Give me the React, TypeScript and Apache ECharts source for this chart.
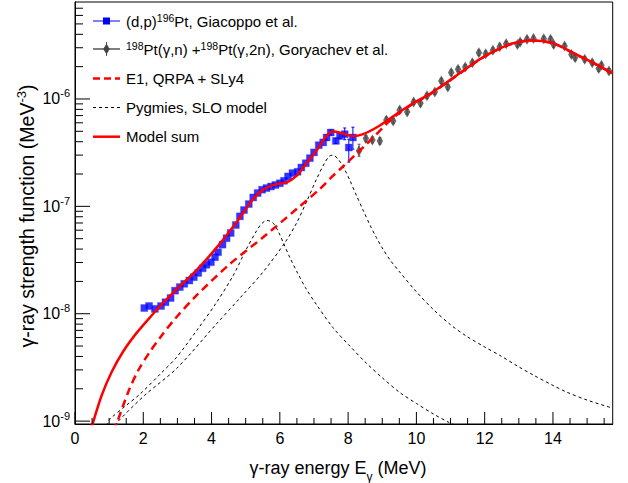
import React, { useEffect, useRef } from "react";
import * as echarts from "echarts";

const FONT = '"Liberation Sans", Arial, Helvetica, sans-serif';

// (d,p)196Pt, Giacoppo et al.  (energy in MeV, strength in MeV^-3)
const dpEnergy = [2.03, 2.17, 2.34, 2.52, 2.65, 2.80, 2.93, 3.07, 3.20, 3.35, 3.48, 3.61, 3.74, 3.85, 3.98, 4.10, 4.19, 4.32, 4.44, 4.56, 4.71, 4.83, 4.95, 5.09, 5.22, 5.35, 5.48, 5.61, 5.74, 5.87, 6.00, 6.12, 6.24, 6.37, 6.52, 6.63, 6.76, 6.88, 7.00, 7.14, 7.27, 7.37, 7.49, 7.64, 7.76, 7.90, 8.02, 8.14];
const dpStrength = [1.13e-8, 1.18e-8, 1.11e-8, 1.18e-8, 1.28e-8, 1.40e-8, 1.64e-8, 1.77e-8, 1.90e-8, 2.04e-8, 2.19e-8, 2.40e-8, 2.65e-8, 2.86e-8, 3.02e-8, 3.36e-8, 3.74e-8, 4.40e-8, 5.05e-8, 5.65e-8, 6.70e-8, 8.07e-8, 9.24e-8, 1.05e-7, 1.21e-7, 1.33e-7, 1.43e-7, 1.48e-7, 1.53e-7, 1.58e-7, 1.64e-7, 1.73e-7, 1.90e-7, 2.04e-7, 2.10e-7, 2.30e-7, 2.52e-7, 2.81e-7, 3.18e-7, 3.71e-7, 3.94e-7, 4.38e-7, 4.87e-7, 4.07e-7, 4.53e-7, 4.70e-7, 3.53e-7, 4.38e-7];
const dpErrEnergy = [7.37, 7.49, 7.64, 7.76, 7.90, 8.02, 8.14];
const dpErrLow = [4.15e-7, 4.62e-7, 3.85e-7, 4.25e-7, 4.17e-7, 2.58e-7, 3.41e-7];
const dpErrHigh = [4.62e-7, 5.14e-7, 4.30e-7, 4.85e-7, 5.37e-7, 4.22e-7, 5.46e-7];

// 198Pt(g,n) + 198Pt(g,2n), Goryachev et al.
const gEnergy = [8.32, 8.52, 8.71, 8.93, 9.12, 9.32, 9.51, 9.73, 9.92, 10.12, 10.31, 10.54, 10.73, 10.92, 11.02, 11.22, 11.43, 11.64, 11.83, 12.03, 12.24, 12.44, 12.63, 12.96, 13.04, 13.24, 13.43, 13.73, 13.93, 14.02, 14.34, 14.54, 14.65, 14.93, 15.15, 15.34, 15.42, 15.64];
const gStrength = [3.29e-7, 4.28e-7, 4.16e-7, 4.07e-7, 6.38e-7, 6.25e-7, 7.90e-7, 7.57e-7, 9.37e-7, 9.12e-7, 1.07e-6, 1.16e-6, 1.47e-6, 1.29e-6, 1.76e-6, 1.89e-6, 1.98e-6, 2.18e-6, 2.70e-6, 2.64e-6, 2.84e-6, 3.07e-6, 3.27e-6, 3.22e-6, 3.39e-6, 3.59e-6, 3.66e-6, 3.64e-6, 3.59e-6, 3.22e-6, 3.11e-6, 2.60e-6, 2.42e-6, 2.34e-6, 2.18e-6, 1.92e-6, 2.06e-6, 1.82e-6];
const gErrLow = [2.93e-7, 4.0e-7, 3.9e-7, 3.8e-7, 6.0e-7, 5.9e-7, 7.45e-7, 7.15e-7, 8.85e-7, 8.6e-7, 1.01e-6, 1.1e-6, 1.39e-6, 1.22e-6, 1.66e-6, 1.79e-6, 1.87e-6, 2.06e-6, 2.55e-6, 2.5e-6, 2.69e-6, 2.9e-6, 3.09e-6, 3.04e-6, 3.2e-6, 3.4e-6, 3.46e-6, 3.44e-6, 3.4e-6, 3.04e-6, 2.94e-6, 2.46e-6, 2.29e-6, 2.21e-6, 2.06e-6, 1.81e-6, 1.95e-6, 1.72e-6];
const gErrHigh = [3.79e-7, 4.56e-7, 4.43e-7, 4.34e-7, 6.76e-7, 6.62e-7, 8.35e-7, 8.0e-7, 9.9e-7, 9.65e-7, 1.13e-6, 1.23e-6, 1.55e-6, 1.36e-6, 1.86e-6, 2.0e-6, 2.09e-6, 2.3e-6, 2.85e-6, 2.79e-6, 3.0e-6, 3.24e-6, 3.45e-6, 3.4e-6, 3.58e-6, 3.79e-6, 3.86e-6, 3.84e-6, 3.79e-6, 3.4e-6, 3.28e-6, 2.74e-6, 2.56e-6, 2.47e-6, 2.3e-6, 2.03e-6, 2.17e-6, 1.92e-6];

// Model sum
const sumEnergy = [0.45, 0.52, 0.78, 1.07, 1.41, 1.80, 2.29, 2.58, 2.90, 3.56, 4.24, 4.73, 5.22, 5.51, 5.90, 6.20, 6.49, 6.68, 7.07, 7.37, 7.56, 7.85, 8.14, 8.44, 8.88, 9.41, 9.90, 10.39, 10.88, 11.36, 11.85, 12.34, 12.83, 13.32, 13.71, 14.10, 14.49, 14.88, 15.27, 15.75];
const sumStrength = [0.78e-9, 0.95e-9, 1.73e-9, 2.85e-9, 4.45e-9, 6.6e-9, 1.0e-8, 1.26e-8, 1.6e-8, 2.55e-8, 4.47e-8, 7.1e-8, 1.17e-7, 1.43e-7, 1.61e-7, 1.67e-7, 1.92e-7, 2.3e-7, 3.29e-7, 4.53e-7, 4.97e-7, 4.77e-7, 4.50e-7, 4.70e-7, 5.54e-7, 7.21e-7, 9.12e-7, 1.11e-6, 1.42e-6, 1.82e-6, 2.34e-6, 2.85e-6, 3.30e-6, 3.51e-6, 3.46e-6, 3.22e-6, 2.79e-6, 2.42e-6, 2.10e-6, 1.73e-6];

// E1, QRPA + SLy4
const e1Energy = [1.12, 1.22, 1.56, 1.85, 2.19, 2.54, 2.93, 3.56, 4.54, 5.51, 6.49, 7.17, 7.50, 7.85, 8.20, 8.50, 8.80, 9.17, 9.41, 9.90, 10.39, 10.88, 11.36, 11.85, 12.34, 12.83, 13.32, 13.71, 14.10, 14.49, 14.88, 15.27, 15.75];
const e1Strength = [0.8e-9, 0.95e-9, 1.87e-9, 2.96e-9, 4.40e-9, 6.27e-9, 8.97e-9, 1.48e-8, 2.91e-8, 5.15e-8, 9.44e-8, 1.45e-7, 1.85e-7, 2.35e-7, 3.0e-7, 3.7e-7, 4.6e-7, 6.05e-7, 7.05e-7, 9.0e-7, 1.1e-6, 1.41e-6, 1.81e-6, 2.33e-6, 2.84e-6, 3.29e-6, 3.5e-6, 3.45e-6, 3.21e-6, 2.78e-6, 2.41e-6, 2.09e-6, 1.72e-6];

// Pygmy resonance 1 (SLO)
const pyg1Energy = [0.92, 1.02, 1.50, 1.90, 2.50, 2.98, 3.61, 4.15, 4.63, 5.02, 5.32, 5.45, 5.61, 5.75, 5.85, 5.97, 6.10, 6.30, 6.49, 6.75, 7.07, 7.56, 8.05, 8.54, 9.02, 9.51, 10.00, 10.49, 10.93, 11.20];
const pyg1Strength = [0.9e-9, 1.04e-9, 1.4e-9, 1.78e-9, 2.75e-9, 3.95e-9, 7.3e-9, 1.28e-8, 2.26e-8, 4.0e-8, 5.93e-8, 6.8e-8, 7.4e-8, 7.2e-8, 6.7e-8, 5.7e-8, 4.6e-8, 3.3e-8, 2.5e-8, 1.75e-8, 1.22e-8, 7.4e-9, 5.0e-9, 3.45e-9, 2.5e-9, 1.85e-9, 1.46e-9, 1.17e-9, 0.98e-9, 0.9e-9];

// Pygmy resonance 2 (SLO)
const pyg2Energy = [1.18, 1.27, 2.05, 2.98, 4.10, 4.83, 5.51, 6.15, 6.49, 6.78, 7.07, 7.30, 7.45, 7.55, 7.71, 7.90, 8.05, 8.25, 8.44, 8.65, 8.83, 9.02, 9.25, 9.51, 10.00, 10.49, 11.00, 11.46, 12.00, 12.44, 13.00, 13.41, 14.00, 14.39, 15.00, 15.75];
const pyg2Strength = [0.9e-9, 1.0e-9, 1.75e-9, 3.1e-9, 7.76e-9, 1.4e-8, 2.45e-8, 4.6e-8, 7.0e-8, 1.1e-7, 1.78e-7, 2.5e-7, 2.93e-7, 3.0e-7, 2.75e-7, 2.2e-7, 1.75e-7, 1.25e-7, 9.2e-8, 6.6e-8, 5.1e-8, 4.0e-8, 3.1e-8, 2.45e-8, 1.6e-8, 1.1e-8, 7.9e-9, 6.2e-9, 4.9e-9, 4.1e-9, 3.2e-9, 2.7e-9, 2.15e-9, 1.87e-9, 1.57e-9, 1.32e-9];

// Axis ticks
const xTickValues = [0, 0.5, 1, 1.5, 2, 2.5, 3, 3.5, 4, 4.5, 5, 5.5, 6, 6.5, 7, 7.5, 8, 8.5, 9, 9.5, 10, 10.5, 11, 11.5, 12, 12.5, 13, 13.5, 14, 14.5, 15, 15.5];
const yDecades = [1e-9, 1e-8, 1e-7, 1e-6];
const yMantissas = [1, 2, 3, 4, 5, 6, 7, 8, 9];

const X_MIN = 0;
const X_MAX = 15.75;
const Y_MIN = 0.94e-9;
const Y_MAX = 8.0e-6;

const zip = (a: number[], b: number[]) => a.map((v, i) => [v, b[i]]);

export default function App() {
  const ref = useRef<HTMLDivElement | null>(null);

  useEffect(() => {
    if (!ref.current) return;
    const chart = echarts.init(ref.current, undefined, { renderer: "svg" });

    const tickData: number[][] = [];
    xTickValues.forEach((v) => tickData.push([v, 1e-7, 0, v % 2 === 0 ? 1 : 0]));
    yDecades.forEach((d) =>
      yMantissas.forEach((m) => {
        const v = m * d;
        if (v >= Y_MIN && v < Y_MAX * 0.99) tickData.push([1, v, 1, m === 1 ? 1 : 0]);
      })
    );

    const errData: number[][] = [];
    dpErrEnergy.forEach((e, i) => errData.push([e, dpErrLow[i], dpErrHigh[i], 0]));
    gEnergy.forEach((e, i) => errData.push([e, gErrLow[i], gErrHigh[i], 1]));

    const richLegend = {
      n: { fontSize: 15, fontFamily: FONT, fill: "#000", lineHeight: 18 },
      s: { fontSize: 10.5, fontFamily: FONT, fill: "#000", lineHeight: 10, verticalAlign: "top" },
    };

    const legendY = [21, 49, 78.5, 107.5, 136.7];
    const lx1 = 93;
    const lx2 = 120;
    const lxm = 106.5;
    const tx = 126;

    const graphic: any[] = [
      { type: "line", shape: { x1: lx1, y1: legendY[0], x2: lx2, y2: legendY[0] }, style: { stroke: "#0000ff", lineWidth: 1 } },
      { type: "rect", shape: { x: lxm - 3.5, y: legendY[0] - 3.5, width: 7, height: 7 }, style: { fill: "#0000ff" } },
      { type: "text", x: tx, y: legendY[0], style: { text: "{n|(d,p)}{s|196}{n|Pt, Giacoppo et al.}", rich: richLegend, verticalAlign: "middle", align: "left" } },
      { type: "line", shape: { x1: lx1, y1: legendY[1], x2: lx2, y2: legendY[1] }, style: { stroke: "#555", lineWidth: 1.5 } },
      { type: "line", shape: { x1: lxm, y1: legendY[1] - 7, x2: lxm, y2: legendY[1] + 7 }, style: { stroke: "#555", lineWidth: 1 } },
      { type: "polygon", shape: { points: [[lxm, legendY[1] - 5.5], [lxm + 3.2, legendY[1]], [lxm, legendY[1] + 5.5], [lxm - 3.2, legendY[1]]] }, style: { fill: "#444" } },
      { type: "text", x: tx, y: legendY[1], style: { text: "{s|198}{n|Pt(γ,n) +}{s|198}{n|Pt(γ,2n), Goryachev et al.}", rich: richLegend, verticalAlign: "middle", align: "left" } },
      { type: "line", shape: { x1: lx1, y1: legendY[2], x2: lx2, y2: legendY[2] }, style: { stroke: "#ff0000", lineWidth: 2.5, lineDash: [7, 4] } },
      { type: "text", x: tx, y: legendY[2], style: { text: "{n|E1, QRPA + SLy4}", rich: richLegend, verticalAlign: "middle", align: "left" } },
      { type: "line", shape: { x1: lx1, y1: legendY[3], x2: lx2, y2: legendY[3] }, style: { stroke: "#000", lineWidth: 1, lineDash: [3, 3] } },
      { type: "text", x: tx, y: legendY[3], style: { text: "{n|Pygmies, SLO model}", rich: richLegend, verticalAlign: "middle", align: "left" } },
      { type: "line", shape: { x1: lx1, y1: legendY[4], x2: lx2, y2: legendY[4] }, style: { stroke: "#ff0000", lineWidth: 2.5 } },
      { type: "text", x: tx, y: legendY[4], style: { text: "{n|Model sum}", rich: richLegend, verticalAlign: "middle", align: "left" } },
      {
        type: "text",
        x: 27,
        y: 216,
        rotation: Math.PI / 2,
        style: {
          text: "{n|γ-ray strength function (MeV}{s|-3}{n|)}",
          align: "center",
          verticalAlign: "middle",
          rich: {
            n: { fontSize: 19.5, fontFamily: FONT, fill: "#000", lineHeight: 24 },
            s: { fontSize: 13, fontFamily: FONT, fill: "#000", lineHeight: 13, verticalAlign: "top" },
          },
        },
      },
      {
        type: "text",
        x: 338,
        y: 468,
        style: {
          text: "{n|γ-ray energy E}{u|γ}{n| (MeV)}",
          align: "center",
          verticalAlign: "middle",
          rich: {
            n: { fontSize: 18, fontFamily: FONT, fill: "#000", lineHeight: 30 },
            u: { fontSize: 12, fontFamily: FONT, fill: "#000", lineHeight: 12, verticalAlign: "bottom" },
          },
        },
      },
    ];

    const lineBase = { showSymbol: false, symbol: "none", smooth: 0.3 };

    const option: any = {
      animation: false,
      backgroundColor: "#ffffff",
      grid: {
        left: 75,
        right: 15.3,
        top: 2,
        bottom: 59,
        show: true,
        borderColor: "#000",
        borderWidth: 1,
        backgroundColor: "transparent",
      },
      xAxis: {
        type: "value",
        min: X_MIN,
        max: X_MAX,
        interval: 2,
        axisLine: { show: true, lineStyle: { color: "#000", width: 1 } },
        axisTick: { show: false },
        splitLine: { show: false },
        axisLabel: {
          fontSize: 16,
          fontFamily: FONT,
          color: "#000",
          margin: 6,
          formatter: (v: number) => (Math.abs(v % 2) < 1e-9 ? String(v) : ""),
        },
      },
      yAxis: {
        type: "log",
        logBase: 10,
        min: Y_MIN,
        max: Y_MAX,
        axisLine: { show: true, lineStyle: { color: "#000", width: 1 } },
        axisTick: { show: false },
        splitLine: { show: false },
        axisLabel: {
          margin: 5,
          formatter: (v: number) => {
            const e = Math.log10(v);
            const r = Math.round(e);
            if (Math.abs(e - r) > 1e-6) return "";
            return `{b|10}{s|${r}}`;
          },
          rich: {
            b: { fontSize: 16, fontFamily: FONT, color: "#000", lineHeight: 22 },
            s: { fontSize: 11, fontFamily: FONT, color: "#000", lineHeight: 11, verticalAlign: "top" },
          },
        },
      },
      graphic,
      series: [
        {
          type: "custom",
          name: "errors",
          z: 1,
          encode: { x: 0, y: [1, 2] },
          data: errData,
          renderItem: (params: any, api: any) => {
            const x = api.value(0);
            const p1 = api.coord([x, api.value(1)]);
            const p2 = api.coord([x, api.value(2)]);
            const col = api.value(3) === 0 ? "#0000ff" : "#555";
            return {
              type: "group",
              children: [
                { type: "line", shape: { x1: p1[0], y1: p1[1], x2: p2[0], y2: p2[1] }, style: { stroke: col, lineWidth: 1 } },
                { type: "line", shape: { x1: p1[0] - 1.5, y1: p1[1], x2: p1[0] + 1.5, y2: p1[1] }, style: { stroke: col, lineWidth: 1 } },
                { type: "line", shape: { x1: p2[0] - 1.5, y1: p2[1], x2: p2[0] + 1.5, y2: p2[1] }, style: { stroke: col, lineWidth: 1 } },
              ],
            };
          },
        },
        {
          type: "scatter",
          name: "(d,p)196Pt, Giacoppo et al.",
          z: 2,
          symbol: "rect",
          symbolSize: 7,
          itemStyle: { color: "#0000ff", borderColor: "rgba(60,60,255,0.45)", borderWidth: 1 },
          data: zip(dpEnergy, dpStrength),
        },
        {
          type: "scatter",
          name: "Goryachev et al.",
          z: 2,
          symbol: "path://M0,-16L10,0L0,16L-10,0Z",
          symbolSize: [6.5, 11],
          itemStyle: { color: "#444" },
          data: zip(gEnergy, gStrength),
        },
        { type: "line", name: "Pygmy 1", z: 3, ...lineBase, lineStyle: { color: "#000", width: 1, type: [3, 3] }, data: zip(pyg1Energy, pyg1Strength) },
        { type: "line", name: "Pygmy 2", z: 3, ...lineBase, lineStyle: { color: "#000", width: 1, type: [3, 3] }, data: zip(pyg2Energy, pyg2Strength) },
        { type: "line", name: "E1, QRPA + SLy4", z: 3, ...lineBase, lineStyle: { color: "#ff0000", width: 2.5, type: [8, 5] }, data: zip(e1Energy, e1Strength) },
        { type: "line", name: "Model sum", z: 4, ...lineBase, lineStyle: { color: "#ff0000", width: 2.5 }, data: zip(sumEnergy, sumStrength) },
        {
          type: "custom",
          name: "ticks",
          z: 5,
          encode: { x: 0, y: 1 },
          data: tickData,
          renderItem: (params: any, api: any) => {
            const c = api.coord([api.value(0), api.value(1)]);
            const cs = params.coordSys;
            const kind = api.value(2);
            const major = api.value(3) === 1;
            if (kind === 0) {
              const len = major ? 12 : 6;
              const yb = cs.y + cs.height;
              return { type: "line", shape: { x1: c[0], y1: yb, x2: c[0], y2: yb - len }, style: { stroke: "#000", lineWidth: 1 } };
            }
            const len = major ? 15 : 8;
            return { type: "line", shape: { x1: cs.x, y1: c[1], x2: cs.x + len, y2: c[1] }, style: { stroke: "#000", lineWidth: 1 } };
          },
        },
      ],
    };

    chart.setOption(option);
    return () => {
      chart.dispose();
    };
  }, []);

  return (
    <div
      ref={ref}
      style={{ position: "fixed", left: 0, top: 0, width: 628, height: 483, background: "#fff" }}
    />
  );
}
